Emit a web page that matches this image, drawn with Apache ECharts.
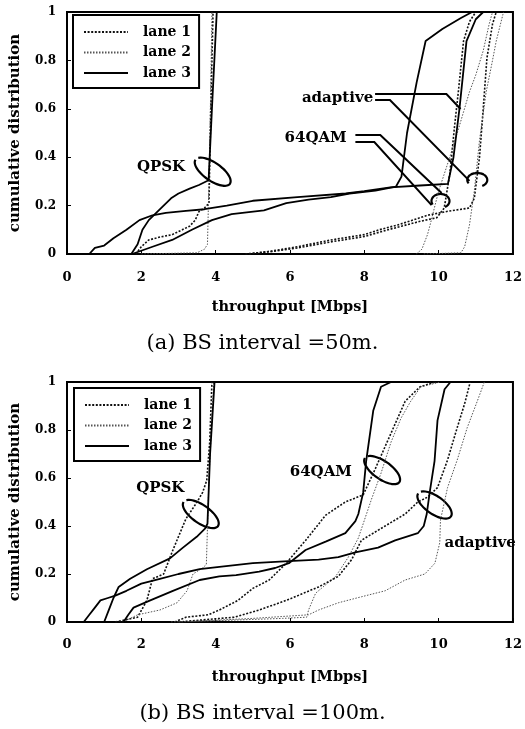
<!DOCTYPE html>
<html>
<head>
<meta charset="utf-8">
<script src="https://cdn.jsdelivr.net/npm/echarts@6/dist/echarts.min.js"></script>
<style>
html,body{margin:0;padding:0;background:#fff}
#chart{width:525px;height:729px}
</style>
</head>
<body>
<div id="chart"></div>
<script>
// (a) BS interval 50m  -- [throughput Mbps, cumulative prob]
var qpskA1 = [[1.85,0],[2.0,0.03],[2.2,0.058],[2.5,0.07],[2.83,0.08],[3.1,0.1],[3.3,0.115],[3.45,0.14],[3.55,0.175],[3.7,0.19],[3.82,0.21],[3.87,0.6],[3.93,1]];
var qpskA2 = [[2.0,0],[3.5,0.005],[3.7,0.02],[3.78,0.04],[3.82,0.3],[3.87,0.7],[3.9,1]];
var qpskA3 = [[1.73,0],[1.9,0.04],[2.03,0.1],[2.2,0.14],[2.4,0.17],[2.6,0.2],[2.8,0.23],[3.0,0.25],[3.3,0.27],[3.55,0.285],[3.81,0.305],[3.9,0.6],[4.03,1]];
var qamA1 = [[4.8,0],[5.5,0.01],[6.2,0.025],[7.1,0.05],[8.0,0.072],[8.4,0.09],[9.0,0.115],[9.5,0.135],[9.95,0.15],[10.15,0.19],[10.3,0.33],[10.43,0.53],[10.53,0.67],[10.67,0.88],[10.83,0.96],[11.0,1]];
var qamA2 = [[9.4,0],[9.55,0.02],[9.7,0.08],[9.77,0.12],[10.0,0.26],[10.3,0.4],[10.56,0.53],[10.83,0.67],[11.0,0.74],[11.2,0.84],[11.36,0.95],[11.45,1]];
var qamA3 = [[1.75,0],[2.3,0.03],[2.83,0.058],[3.36,0.1],[3.9,0.14],[4.43,0.165],[5.3,0.18],[5.9,0.21],[6.5,0.225],[7.1,0.235],[7.6,0.25],[8.3,0.262],[8.85,0.278],[9.0,0.32],[9.15,0.5],[9.41,0.71],[9.65,0.88],[10.1,0.93],[10.6,0.975],[10.9,1]];
var adpA1 = [[4.9,0],[5.5,0.012],[6.2,0.03],[7.1,0.058],[8.0,0.08],[8.4,0.1],[8.9,0.12],[9.7,0.16],[10.3,0.178],[10.83,0.19],[10.96,0.23],[11.1,0.4],[11.2,0.6],[11.3,0.81],[11.45,0.95],[11.55,1]];
var adpA2 = [[9.6,0],[10.6,0.005],[10.7,0.03],[10.83,0.12],[10.96,0.26],[11.1,0.47],[11.28,0.67],[11.45,0.8],[11.55,0.88],[11.73,0.99],[11.75,1]];
var adpA3 = [[0.6,0],[0.75,0.025],[1.0,0.035],[1.25,0.065],[1.6,0.1],[1.95,0.14],[2.3,0.16],[2.66,0.17],[3.2,0.178],[3.7,0.185],[4.3,0.2],[5.0,0.22],[6.2,0.235],[7.5,0.25],[8.0,0.26],[8.7,0.275],[9.5,0.283],[10.25,0.29],[10.4,0.4],[10.56,0.6],[10.75,0.88],[11.0,0.97],[11.2,1]];

// (b) BS interval 100m
var qpskB1 = [[1.3,0],[1.9,0.02],[2.15,0.09],[2.3,0.18],[2.6,0.2],[2.85,0.3],[3.2,0.43],[3.5,0.5],[3.65,0.54],[3.76,0.59],[3.84,0.75],[3.9,1]];
var qpskB2 = [[1.5,0],[1.9,0.03],[2.5,0.05],[2.96,0.08],[3.23,0.13],[3.39,0.2],[3.65,0.225],[3.75,0.24],[3.82,0.6],[3.95,1]];
var qpskB3 = [[1.0,0],[1.15,0.06],[1.25,0.1],[1.39,0.146],[1.7,0.18],[2.15,0.22],[2.77,0.265],[3.12,0.31],[3.49,0.355],[3.72,0.39],[3.78,0.41],[3.85,0.7],[3.97,1]];
var qamB1 = [[2.9,0],[3.2,0.02],[3.8,0.03],[4.1,0.05],[4.6,0.09],[5.0,0.14],[5.44,0.175],[5.9,0.245],[6.42,0.34],[6.96,0.445],[7.49,0.5],[7.97,0.53],[8.3,0.64],[8.7,0.78],[9.1,0.92],[9.5,0.98],[9.9,1]];
var qamB2 = [[2.8,0],[4.5,0.008],[5.8,0.015],[6.45,0.02],[6.5,0.05],[6.69,0.12],[7.23,0.19],[7.57,0.27],[7.84,0.35],[8.19,0.51],[8.45,0.62],[8.72,0.75],[8.99,0.85],[9.25,0.92],[9.52,0.98],[10.05,1]];
var qamB3 = [[1.52,0],[1.65,0.03],[1.79,0.06],[2.24,0.09],[2.85,0.13],[3.57,0.175],[4.1,0.19],[4.55,0.195],[5.17,0.21],[5.6,0.225],[5.97,0.245],[6.42,0.3],[6.96,0.335],[7.49,0.37],[7.76,0.42],[7.84,0.45],[7.97,0.54],[8.05,0.67],[8.24,0.88],[8.45,0.98],[8.72,1]];
var adpB1 = [[3.0,0],[4.5,0.02],[5.17,0.05],[5.9,0.09],[6.77,0.146],[7.3,0.19],[7.66,0.26],[7.92,0.34],[8.56,0.4],[9.1,0.45],[9.44,0.5],[9.7,0.52],[9.97,0.56],[10.24,0.675],[10.5,0.81],[10.7,0.91],[10.85,1]];
var adpB2 = [[3.0,0],[5.0,0.015],[6.5,0.03],[6.77,0.05],[7.3,0.08],[7.92,0.105],[8.56,0.13],[9.1,0.175],[9.63,0.2],[9.9,0.245],[10.03,0.33],[10.05,0.425],[10.24,0.56],[10.5,0.675],[10.77,0.81],[11.04,0.92],[11.23,1]];
var adpB3 = [[0.45,0],[0.6,0.03],[0.75,0.06],[0.9,0.09],[1.1,0.1],[1.3,0.11],[1.6,0.13],[2.0,0.16],[2.5,0.18],[3.0,0.2],[3.57,0.22],[4.1,0.23],[5.0,0.245],[5.97,0.254],[6.77,0.26],[7.3,0.27],[7.76,0.29],[8.37,0.31],[8.83,0.34],[9.44,0.37],[9.6,0.4],[9.68,0.45],[9.76,0.54],[9.89,0.67],[9.97,0.84],[10.16,0.97],[10.32,1]];

var laneNames = ['lane 1', 'lane 2', 'lane 3'];
var captions = ['(a) BS interval =50m.', '(b) BS interval =100m.'];

var serif = '"DejaVu Serif", "Liberation Serif", serif';
var laneStyle = {
    'lane 1': {color: '#111', width: 1.6, type: [2, 1.6]},
    'lane 2': {color: '#555', width: 1, type: [1.5, 1.5]},
    'lane 3': {color: '#000', width: 1.8, type: 'solid'}
};

function mkSeries(name, data, g) {
    var s = laneStyle[name];
    return {
        name: name, type: 'line', xAxisIndex: g, yAxisIndex: g,
        data: data, symbol: 'none', showSymbol: false, silent: true,
        lineStyle: {color: s.color, width: s.width, type: s.type},
        itemStyle: {color: s.color}
    };
}

var series = [
    mkSeries('lane 1', qpskA1, 0), mkSeries('lane 2', qpskA2, 0), mkSeries('lane 3', qpskA3, 0),
    mkSeries('lane 1', qamA1, 0), mkSeries('lane 2', qamA2, 0), mkSeries('lane 3', qamA3, 0),
    mkSeries('lane 1', adpA1, 0), mkSeries('lane 2', adpA2, 0), mkSeries('lane 3', adpA3, 0),
    mkSeries('lane 1', qpskB1, 1), mkSeries('lane 2', qpskB2, 1), mkSeries('lane 3', qpskB3, 1),
    mkSeries('lane 1', qamB1, 1), mkSeries('lane 2', qamB2, 1), mkSeries('lane 3', qamB3, 1),
    mkSeries('lane 1', adpB1, 1), mkSeries('lane 2', adpB2, 1), mkSeries('lane 3', adpB3, 1)
];

function xAx(g, margin, gap) {
    return {
        type: 'value', gridIndex: g, min: 0, max: 12, interval: 2,
        name: 'throughput [Mbps]', nameLocation: 'middle', nameGap: gap,
        nameTextStyle: {fontFamily: serif, fontWeight: 'bold', fontSize: 14.5, color: '#000'},
        axisLine: {lineStyle: {color: '#000', width: 2}},
        axisTick: {inside: true, length: 4, lineStyle: {color: '#000'}},
        axisLabel: {margin: margin, fontFamily: serif, fontWeight: 'bold', fontSize: 13, color: '#000'},
        splitLine: {show: false}
    };
}
function yAx(g) {
    return {
        type: 'value', gridIndex: g, min: 0, max: 1, interval: 0.2,
        name: 'cumulative distribution', nameLocation: 'middle', nameGap: 44,
        nameTextStyle: {fontFamily: serif, fontWeight: 'bold', fontSize: 15, color: '#000'},
        axisLine: {show: true, lineStyle: {color: '#000', width: 2}},
        axisTick: {show: true, inside: true, length: 4, lineStyle: {color: '#000'}},
        axisLabel: {margin: 11, fontFamily: serif, fontWeight: 'bold', fontSize: 12, color: '#000'},
        splitLine: {show: false}
    };
}
function legendAt(left, top) {
    return {
        data: laneNames, orient: 'vertical', left: left, top: top,
        itemWidth: 44, itemHeight: 14, itemGap: 6.5,
        padding: [10, 8, 8, 10],
        borderColor: '#000', borderWidth: 2,
        selectedMode: false,
        // hide the marker symbol, keep only the line sample
        itemStyle: {color: 'rgba(0,0,0,0)', borderColor: 'rgba(0,0,0,0)', borderWidth: 0, opacity: 0},
        textStyle: {fontFamily: serif, fontWeight: 'bold', fontSize: 14, color: '#000', padding: [0, 0, 0, 10]}
    };
}

var chart = echarts.init(document.getElementById('chart'));
chart.setOption({
    backgroundColor: '#fff',
    animation: false,
    title: [
        {text: captions[0], left: 'center', top: 328, textStyle: {fontFamily: serif, fontWeight: 'normal', fontSize: 21, color: '#000'}},
        {text: captions[1], left: 'center', top: 698, textStyle: {fontFamily: serif, fontWeight: 'normal', fontSize: 21, color: '#000'}}
    ],
    legend: [legendAt(73, 15), legendAt(74, 388)],
    grid: [
        {left: 67, top: 12, width: 450, height: 242, show: true, borderColor: '#000', borderWidth: 2},
        {left: 66, top: 382, width: 451, height: 240, show: true, borderColor: '#000', borderWidth: 2}
    ],
    xAxis: [xAx(0, 17, 46), xAx(1, 16, 48)],
    yAxis: [yAx(0), yAx(1)],
    series: series
});

// annotations (positions in data units, converted through the axes)
var notes = [
    {g: 0, text: 'QPSK', at: [2.53, 0.36]},
    {g: 0, loop: [3.92, 0.34], rx: 21, ry: 9, rot: 35, t0: 200, t1: 545},
    {g: 0, text: '64QAM', at: [6.69, 0.479]},
    {g: 0, line: [[7.76, 0.492], [8.43, 0.492], [10.08, 0.252]]},
    {g: 0, line: [[7.76, 0.463], [8.27, 0.463], [9.81, 0.202]]},
    {g: 0, loop: [10.05, 0.219], rx: 9, ry: 7, rot: 0, t0: 150, t1: 420},
    {g: 0, text: 'adaptive', at: [7.28, 0.645]},
    {g: 0, line: [[8.29, 0.661], [10.21, 0.661], [10.59, 0.599]]},
    {g: 0, line: [[8.29, 0.636], [8.69, 0.636], [10.83, 0.302]]},
    {g: 0, loop: [11.04, 0.306], rx: 10, ry: 7, rot: 0, t0: 150, t1: 420},
    {g: 1, text: 'QPSK', at: [2.51, 0.558]},
    {g: 1, loop: [3.6, 0.45], rx: 21, ry: 9, rot: 35, t0: 200, t1: 545},
    {g: 1, text: '64QAM', at: [6.83, 0.625]},
    {g: 1, loop: [8.48, 0.633], rx: 21, ry: 9, rot: 35, t0: 200, t1: 545},
    {g: 1, text: 'adaptive', at: [10.16, 0.33], align: 'left'},
    {g: 1, loop: [9.89, 0.4875], rx: 20, ry: 9, rot: 35, t0: 200, t1: 545}
];

function loopPts(c, rx, ry, rot, t0, t1) {
    var pts = [], a = rot * Math.PI / 180;
    for (var t = t0; t <= t1; t += 10) {
        var r = t * Math.PI / 180;
        var lx = rx * Math.cos(r), ly = ry * Math.sin(r);
        pts.push([c[0] + lx * Math.cos(a) - ly * Math.sin(a), c[1] + lx * Math.sin(a) + ly * Math.cos(a)]);
    }
    return pts;
}

var graphic = [];
notes.forEach(function (n) {
    var fin = {gridIndex: n.g};
    if (n.text) {
        var p = chart.convertToPixel(fin, n.at);
        graphic.push({type: 'text', x: p[0], y: p[1], silent: true,
            style: {text: n.text, fill: '#000', fontFamily: serif, fontWeight: 'bold', fontSize: 15,
                align: n.align || 'center', verticalAlign: 'middle'}});
    } else if (n.line) {
        graphic.push({type: 'polyline', silent: true,
            shape: {points: n.line.map(function (d) { return chart.convertToPixel(fin, d); })},
            style: {stroke: '#000', lineWidth: 2, fill: 'none'}});
    } else {
        var c = chart.convertToPixel(fin, n.loop);
        graphic.push({type: 'polyline', silent: true,
            shape: {points: loopPts(c, n.rx, n.ry, n.rot, n.t0, n.t1), smooth: 0.3},
            style: {stroke: '#000', lineWidth: 2.2, fill: 'none'}});
    }
});
chart.setOption({graphic: graphic});
</script>
</body>
</html>
